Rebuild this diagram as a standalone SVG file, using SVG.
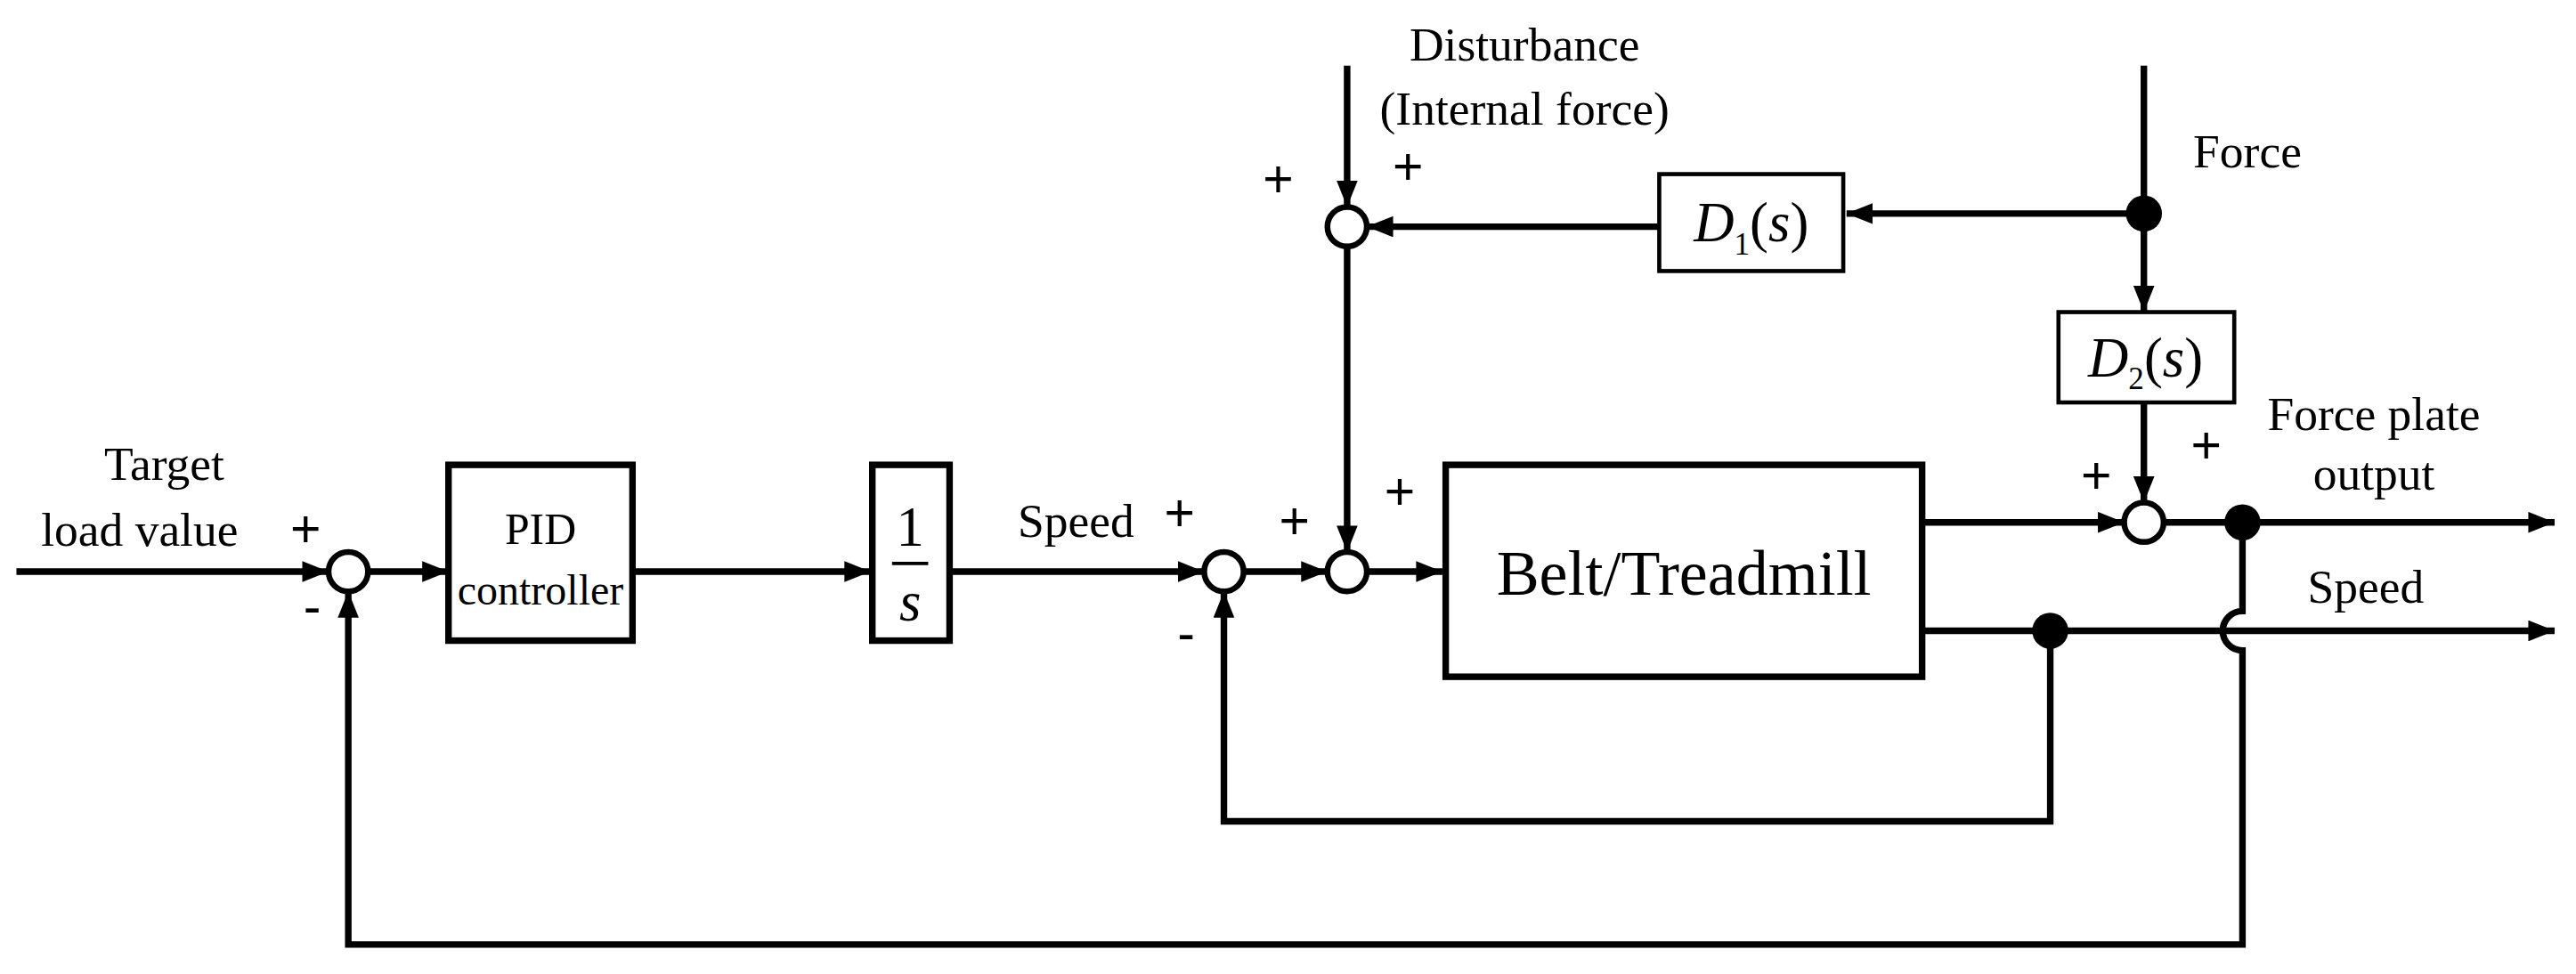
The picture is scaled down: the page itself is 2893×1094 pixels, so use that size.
<svg xmlns="http://www.w3.org/2000/svg" width="2893" height="1094" viewBox="0 0 2893 1094">
<style>
.l{fill:none;stroke:#000;stroke-width:4}
.b{fill:#fff;stroke:#000;stroke-width:4}
.bt{fill:#fff;stroke:#000;stroke-width:2.5}
.s{fill:#fff;stroke:#000;stroke-width:3.5}
.d{fill:#000}
text{font-family:"Liberation Serif",serif;fill:#000}
.t{font-size:29px}
.p{font-size:32px;font-family:"Liberation Sans",sans-serif}
</style>
<defs>
<marker id="a" viewBox="0 0 10 8" refX="10" refY="4" markerWidth="4" markerHeight="3.2" orient="auto"><path d="M0 0L10 4L0 8z"/></marker>
</defs>
<rect width="2893" height="1094" fill="#fff"/>
<g transform="scale(1.845)">
<g id="connectors">
<path class="l" d="M10 348H200" marker-end="url(#a)"/>
<path class="l" d="M224 348H273" marker-end="url(#a)"/>
<path class="l" d="M385 348H530" marker-end="url(#a)"/>
<path class="l" d="M578 348H733" marker-end="url(#a)"/>
<path class="l" d="M757 348H808" marker-end="url(#a)"/>
<path class="l" d="M832 348H878" marker-end="url(#a)"/>
<path class="l" d="M820 40V126" marker-end="url(#a)"/>
<path class="l" d="M820 150V336" marker-end="url(#a)"/>
<path class="l" d="M1010 138H832" marker-end="url(#a)"/>
<path class="l" d="M1305 130H1124" marker-end="url(#a)"/>
<path class="l" d="M1305 40V130"/>
<path class="l" d="M1305 130V190" marker-end="url(#a)"/>
<path class="l" d="M1305 245V306" marker-end="url(#a)"/>
<path class="l" d="M1170 318H1293" marker-end="url(#a)"/>
<path class="l" d="M1317 318H1555" marker-end="url(#a)"/>
<path class="l" d="M1170 384H1555" marker-end="url(#a)"/>
<path class="l" d="M1248 384V500H745V360" marker-end="url(#a)"/>
<path class="l" d="M1365 318V372A12 12 0 0 0 1365 396V575H212V360" marker-end="url(#a)"/>
<circle class="d" cx="1305" cy="130" r="11"/>
<circle class="d" cx="1365" cy="318" r="11"/>
<circle class="d" cx="1248" cy="384" r="11"/>
</g>
<g id="sum1"><circle class="s" cx="212" cy="348" r="12"/></g>
<g id="sum2"><circle class="s" cx="745" cy="348" r="12"/></g>
<g id="sum3"><circle class="s" cx="820" cy="348" r="12"/></g>
<g id="sum_top"><circle class="s" cx="820" cy="138" r="12"/></g>
<g id="sum4"><circle class="s" cx="1305" cy="318" r="12"/></g>
<g id="pid"><rect class="b" x="273" y="283" width="112" height="107"/>
<text x="329" y="331" font-size="27" text-anchor="middle">PID</text>
<text x="329" y="368" font-size="26" text-anchor="middle">controller</text></g>
<g id="integrator"><rect class="b" x="531" y="283" width="47" height="107"/>
<text x="554" y="332" font-size="34" text-anchor="middle">1</text>
<line x1="543" y1="343" x2="565" y2="343" stroke="#000" stroke-width="2"/>
<text x="554" y="378" font-size="34" font-style="italic" text-anchor="middle">s</text></g>
<g id="belt"><rect class="b" x="880" y="283" width="290" height="129"/>
<text x="1025" y="362" font-size="39" text-anchor="middle">Belt/Treadmill</text></g>
<g id="d1"><rect class="bt" x="1010" y="106" width="112" height="59"/>
<text x="1066" y="147" font-size="34" text-anchor="middle"><tspan font-style="italic">D</tspan><tspan font-size="19" dy="8">1</tspan><tspan dy="-8">(</tspan><tspan font-style="italic">s</tspan>)</text></g>
<g id="d2"><rect class="bt" x="1253" y="190" width="107" height="55"/>
<text x="1306" y="229" font-size="34" text-anchor="middle"><tspan font-style="italic">D</tspan><tspan font-size="19" dy="8">2</tspan><tspan dy="-8">(</tspan><tspan font-style="italic">s</tspan>)</text></g>
<g id="labels">
<text class="t" x="100" y="292" text-anchor="middle">Target</text>
<text class="t" x="85" y="332" text-anchor="middle">load value</text>
<text class="t" x="655" y="327" text-anchor="middle">Speed</text>
<text class="t" x="928" y="37" text-anchor="middle">Disturbance</text>
<text class="t" x="928" y="76" text-anchor="middle">(Internal force)</text>
<text class="t" x="1335" y="102">Force</text>
<text class="t" x="1445" y="262" text-anchor="middle">Force plate</text>
<text class="t" x="1445" y="298" text-anchor="middle">output</text>
<text class="t" x="1440" y="367" text-anchor="middle">Speed</text>
<text class="p" x="186" y="333" text-anchor="middle">+</text>
<text class="p" x="190" y="380" text-anchor="middle">-</text>
<text class="p" x="718" y="323" text-anchor="middle">+</text>
<text class="p" x="722" y="396" text-anchor="middle">-</text>
<text class="p" x="788" y="328" text-anchor="middle">+</text>
<text class="p" x="852" y="310" text-anchor="middle">+</text>
<text class="p" x="778" y="120" text-anchor="middle">+</text>
<text class="p" x="857" y="112" text-anchor="middle">+</text>
<text class="p" x="1343" y="282" text-anchor="middle">+</text>
<text class="p" x="1276" y="300" text-anchor="middle">+</text>
</g>
</g>
</svg>
